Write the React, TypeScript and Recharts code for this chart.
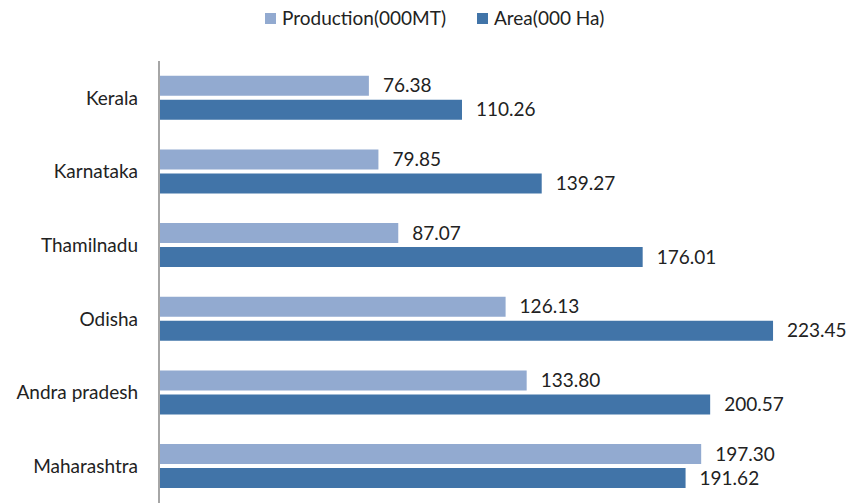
import React from "react";
import { BarChart, Bar, XAxis, YAxis, Legend, LabelList } from "recharts";

const states = ["Kerala", "Karnataka", "Thamilnadu", "Odisha", "Andra pradesh", "Maharashtra"];
const production = [76.38, 79.85, 87.07, 126.13, 133.8, 197.3];
const area = [110.26, 139.27, 176.01, 223.45, 200.57, 191.62];

const data = states.map((s, i) => ({ state: s, production: production[i], area: area[i] }));

const LIGHT = "#92AAD0";
const DARK = "#4174A8";
const FONT = "Lato, 'Open Sans', sans-serif";
const FS = 19;

const LegendContent = () => (
  <div style={{ display: "flex", alignItems: "center", paddingLeft: 265, fontFamily: FONT, fontSize: FS, color: "#222", height: 36, lineHeight: "36px" }}>
    <span style={{ width: 11, height: 11, background: LIGHT, display: "inline-block", marginRight: 6 }} />
    <span style={{ marginRight: 31 }}>Production(000MT)</span>
    <span style={{ width: 11, height: 11, background: DARK, display: "inline-block", marginRight: 6 }} />
    <span>Area(000 Ha)</span>
  </div>
);

const fmt = (v: any) => Number(v).toFixed(2);

export default function App() {
  return (
    <div style={{ position: "absolute", left: 0, top: 0, background: "#fff" }}>
      <BarChart
        width={847}
        height={504}
        data={data}
        layout="vertical"
        margin={{ top: 25, right: 1, bottom: 1, left: 0 }}
        barCategoryGap="20%"
        barGap={4}
      >
        <XAxis type="number" domain={[0, 250]} hide />
        <YAxis
          type="category"
          dataKey="state"
          width={159}
          tickLine={false}
          tickSize={0}
          tickMargin={21}
          axisLine={{ stroke: "#A6A6A6", strokeWidth: 2 }}
          tick={{ fill: "#222", fontSize: FS, fontFamily: FONT }}
        />
        <Legend verticalAlign="top" content={<LegendContent />} wrapperStyle={{ left: 0, top: 0, width: 847, height: 36 }} />
        <Bar dataKey="production" fill={LIGHT} isAnimationActive={false}>
          <LabelList dataKey="production" position="right" offset={14} formatter={fmt} style={{ fill: "#222", fontSize: FS, fontFamily: FONT }} />
        </Bar>
        <Bar dataKey="area" fill={DARK} isAnimationActive={false}>
          <LabelList dataKey="area" position="right" offset={14} formatter={fmt} style={{ fill: "#222", fontSize: FS, fontFamily: FONT }} />
        </Bar>
      </BarChart>
    </div>
  );
}
